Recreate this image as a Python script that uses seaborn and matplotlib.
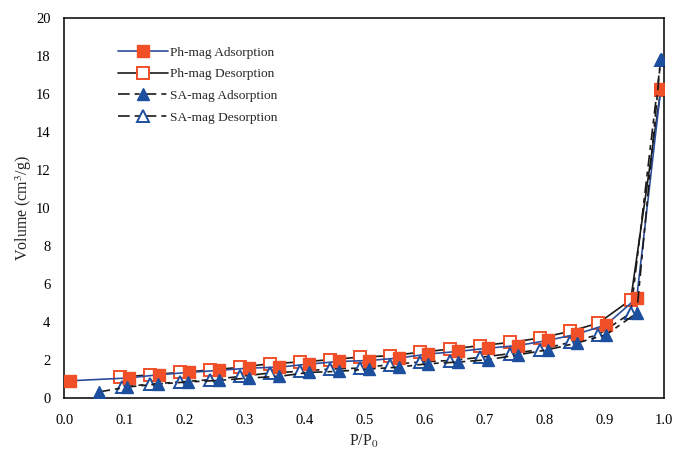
import matplotlib
matplotlib.use("Agg")
import matplotlib.pyplot as plt
import seaborn as sns

# ---- data ----
ph_ads_x = [0.009, 0.107, 0.157, 0.207, 0.257, 0.308, 0.357, 0.407, 0.457, 0.507,
            0.557, 0.606, 0.656, 0.706, 0.756, 0.806, 0.854, 0.903, 0.954, 0.994]
ph_ads_y = [0.89, 1.04, 1.21, 1.33, 1.44, 1.56, 1.61, 1.77, 1.91, 1.96,
            2.09, 2.30, 2.44, 2.61, 2.75, 3.02, 3.35, 3.84, 5.25, 16.25]

ph_des_x = [0.093, 0.143, 0.193, 0.243, 0.293, 0.342, 0.392, 0.442, 0.492, 0.542,
            0.592, 0.642, 0.692, 0.742, 0.792, 0.842, 0.890, 0.944, 0.994]
ph_des_y = [1.07, 1.21, 1.33, 1.46, 1.60, 1.79, 1.88, 2.00, 2.14, 2.21,
            2.39, 2.56, 2.74, 2.91, 3.14, 3.49, 3.93, 5.16, 16.2]

sa_ads_x = [0.057, 0.104, 0.156, 0.206, 0.257, 0.308, 0.357, 0.407, 0.457, 0.507,
            0.557, 0.606, 0.656, 0.706, 0.756, 0.806, 0.854, 0.903, 0.954, 0.994]
sa_ads_y = [0.30, 0.56, 0.72, 0.83, 0.91, 1.04, 1.12, 1.33, 1.39, 1.51,
            1.61, 1.79, 1.88, 2.00, 2.26, 2.53, 2.88, 3.32, 4.46, 17.85]

sa_des_x = [0.096, 0.143, 0.193, 0.243, 0.293, 0.342, 0.392, 0.442, 0.492, 0.542,
            0.592, 0.642, 0.692, 0.742, 0.792, 0.842, 0.890, 0.944, 0.994]
sa_des_y = [0.56, 0.72, 0.83, 0.95, 1.12, 1.30, 1.39, 1.51, 1.56, 1.74,
            1.88, 1.96, 2.12, 2.32, 2.53, 2.91, 3.32, 4.46, 17.8]

labels = ["Ph-mag Adsorption", "Ph-mag Desorption", "SA-mag Adsorption", "SA-mag Desorption"]
x_ticks = [0.0, 0.1, 0.2, 0.3, 0.4, 0.5, 0.6, 0.7, 0.8, 0.9, 1.0]
y_ticks = [0, 2, 4, 6, 8, 10, 12, 14, 16, 18, 20]

# ---- style ----
sns.set_style("white")
plt.rcParams["font.family"] = ["Liberation Serif", "DejaVu Serif"]
plt.rcParams["mathtext.fontset"] = "stix"

ORANGE = "#F04F28"
BLUE = "#1D4F9F"

fig = plt.figure(figsize=(6.74, 4.55), dpi=100)
ax = fig.add_axes([64.3 / 674, 1 - 397.7 / 455, 600 / 674, 379.4 / 455])

dash = (0, (7, 3, 3, 3))

sns.lineplot(x=ph_ads_x, y=ph_ads_y, ax=ax, estimator=None, sort=False,
             color="#2B4E9C", linewidth=1.2, marker="s", markersize=8,
             markerfacecolor=ORANGE, markeredgecolor=ORANGE, markeredgewidth=1,
             label=labels[0], zorder=3)
sns.lineplot(x=ph_des_x, y=ph_des_y, ax=ax, estimator=None, sort=False,
             color="#1a1a1a", linewidth=1.2, marker="s", markersize=8,
             markerfacecolor="white", markeredgecolor=ORANGE, markeredgewidth=1.4,
             label=labels[1], zorder=2)
sns.lineplot(x=sa_ads_x, y=sa_ads_y, ax=ax, estimator=None, sort=False,
             color="#1a1a1a", linewidth=1.2, linestyle=dash, marker="^", markersize=8,
             markerfacecolor=BLUE, markeredgecolor=BLUE, markeredgewidth=1,
             label=labels[2], zorder=3)
sns.lineplot(x=sa_des_x, y=sa_des_y, ax=ax, estimator=None, sort=False,
             color="#1a1a1a", linewidth=1.2, linestyle=dash, marker="^", markersize=8,
             markerfacecolor="white", markeredgecolor=BLUE, markeredgewidth=1.4,
             label=labels[3], zorder=2)

ax.set_xlim(0, 1.0)
ax.set_ylim(0, 20)
ax.set_xticks(x_ticks)
ax.set_xticklabels([f"{t:.1f}" for t in x_ticks])
ax.set_yticks(y_ticks)
ax.set_yticklabels([str(t) for t in y_ticks])
ax.tick_params(axis="both", direction="in", length=5, width=1, labelsize=10.5,
               colors="black")
ax.tick_params(axis="y", pad=10)
ax.tick_params(axis="x", pad=12)

for s in ax.spines.values():
    s.set_visible(True)
    s.set_color("black")
    s.set_linewidth(1.1)

ax.set_xlabel("P/P$_0$", fontsize=11.5, labelpad=4)
ax.set_ylabel("Volume (cm$^3$/g)", fontsize=11.5, labelpad=1)

leg = ax.legend(loc="upper left", bbox_to_anchor=(0.0895, 0.926), frameon=False,
                fontsize=9.6, handlelength=3.75, handletextpad=0.15, labelspacing=0.7,
                borderaxespad=0, borderpad=0)

fig.savefig("out.png", dpi=100)
